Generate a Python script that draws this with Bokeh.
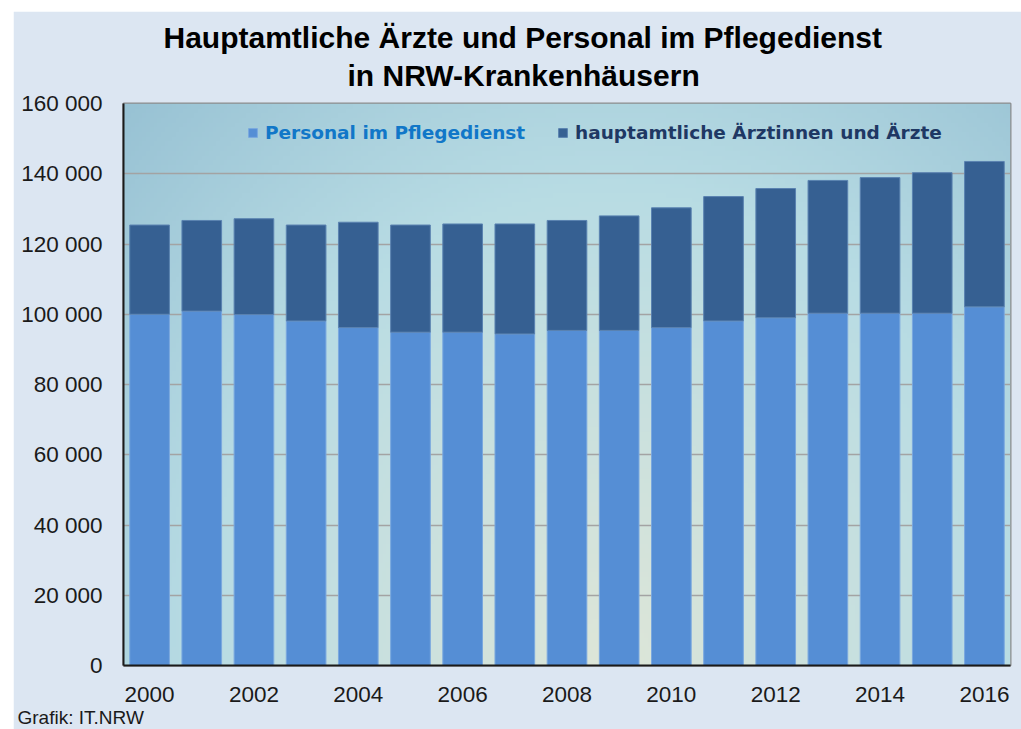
import numpy as np
from bokeh.plotting import figure
from bokeh.models import (Range1d, FixedTicker, CustomJSTickFormatter, Legend, LegendItem,
                          Title, ColumnDataSource)
from bokeh.embed import file_html
from bokeh.resources import INLINE

years = list(range(2000, 2017))
pflege = [100000, 100900, 99900, 98100, 96200, 94900, 94900, 94400, 95400, 95400,
          96200, 98100, 99000, 100300, 100300, 100300, 102100]
aerzte = [25400, 25800, 27300, 27300, 30000, 30500, 30800, 31300, 31300, 32600,
          34100, 35400, 36800, 37800, 38600, 40000, 41400]
series_labels = ["Personal im Pflegedienst", "hauptamtliche Ärztinnen und Ärzte"]
y_ticks = [0, 20000, 40000, 60000, 80000, 100000, 120000, 140000, 160000]
x_ticks = years[::2]

title_lines = ["Hauptamtliche Ärzte und Personal im Pflegedienst", "in NRW-Krankenhäusern"]
source_text = "Grafik: IT.NRW"

FONT = "Liberation Sans"
C_LIGHT = "#558ED5"
C_DARK = "#366092"

x0, x1 = years[0] - 0.5, years[-1] + 0.5
y0, y1 = 0, 160000

src = ColumnDataSource(dict(year=years, pflege=pflege, aerzte=aerzte))

p = figure(width=1008, height=718, output_backend="svg", toolbar_location=None,
           x_range=Range1d(x0, x1), y_range=Range1d(y0, y1),
           min_border_left=110, min_border_right=11, min_border_top=92, min_border_bottom=64)
p.title.visible = False
p.margin = (11, 0, 0, 13)
p.border_fill_color = "#DCE6F2"
p.background_fill_color = "#B6DCE5"
p.outline_line_color = "#8C8C8C"
p.outline_line_width = 2

# radial gradient background of the plot area (decoration)
H, W = 120, 240
yy, xx = np.mgrid[0:H, 0:W]
dx = (xx / (W - 1) - 0.55) / 0.55
dy = (yy / (H - 1)) / 1.0
r = np.clip(np.sqrt(dx ** 2 + dy ** 2) / np.sqrt(2), 0, 1)
c_center = np.array([0xDE, 0xE6, 0xD8], float)
c_mid = np.array([0xB8, 0xDC, 0xE4], float)
c_edge = np.array([0x98, 0xC2, 0xD4], float)
t1 = np.clip(r / 0.6, 0, 1)[..., None]
t2 = np.clip((r - 0.6) / 0.4, 0, 1)[..., None]
col = c_center * (1 - t1) + c_mid * t1
col = col * (1 - t2) + c_edge * t2
img = np.empty((H, W), dtype=np.uint32)
view = img.view(dtype=np.uint8).reshape((H, W, 4))
view[..., 0:3] = col.astype(np.uint8)
view[..., 3] = 255
p.image_rgba(image=[img], x=x0, y=y0, dw=x1 - x0, dh=y1 - y0, level="image")

rs = p.vbar_stack(["pflege", "aerzte"], x="year", width=0.76, source=src,
                  color=[C_LIGHT, C_DARK], line_color=["#7AA8DF", "#5A82B0"], line_width=1)

# axes
p.xaxis.ticker = FixedTicker(ticks=x_ticks)
p.yaxis.ticker = FixedTicker(ticks=y_ticks)
p.yaxis.formatter = CustomJSTickFormatter(code="return tick.toString().replace(/\\B(?=(\\d{3})+(?!\\d))/g, ' ');")
for ax in (p.xaxis, p.yaxis):
    ax.axis_line_color = "#1A1A1A"
    ax.axis_line_width = 2
    ax.major_tick_line_color = None
    ax.minor_tick_line_color = None
    ax.major_label_text_font = FONT
    ax.major_label_text_font_size = "22.5px"
    ax.major_label_text_color = "#1A1A1A"
p.yaxis.major_label_standoff = 15
p.xaxis.major_label_standoff = 15

p.xgrid.grid_line_color = None
p.ygrid.grid_line_color = "#A3A3A3"
p.ygrid.grid_line_width = 1.5

# legends (two, to colour each label like its series)
leg_colors = ["#1177C8", "#1F3864"]
leg_pos = [(124, 522), (434, 522)]
for rend, lab, lc, pos in zip(rs, series_labels, leg_colors, leg_pos):
    lg = Legend(items=[LegendItem(label=lab, renderers=[rend])], location=pos,
                orientation="horizontal", padding=0, margin=0, spacing=0,
                glyph_width=11, glyph_height=11, label_standoff=7,
                background_fill_alpha=0, border_line_color=None,
                label_text_font="DejaVu Sans", label_text_font_style="bold",
                label_text_font_size="18.5px", label_text_color=lc)
    p.add_layout(lg, "center")

# titles and source text
t2_ = Title(text=title_lines[1], align="left", offset=224, standoff=24,
            text_font=FONT, text_font_style="bold", text_font_size="30px", text_color="#000000")
t1_ = Title(text=title_lines[0], align="left", offset=40, standoff=-18,
            text_font=FONT, text_font_style="bold", text_font_size="30px", text_color="#000000")
p.add_layout(t2_, "above")
p.add_layout(t1_, "above")
ts = Title(text=source_text, align="left", offset=-106, standoff=0,
           text_font=FONT, text_font_style="normal", text_font_size="19px", text_color="#1A1A1A")
p.add_layout(ts, "below")

open("out.html", "w").write(file_html(p, INLINE))
